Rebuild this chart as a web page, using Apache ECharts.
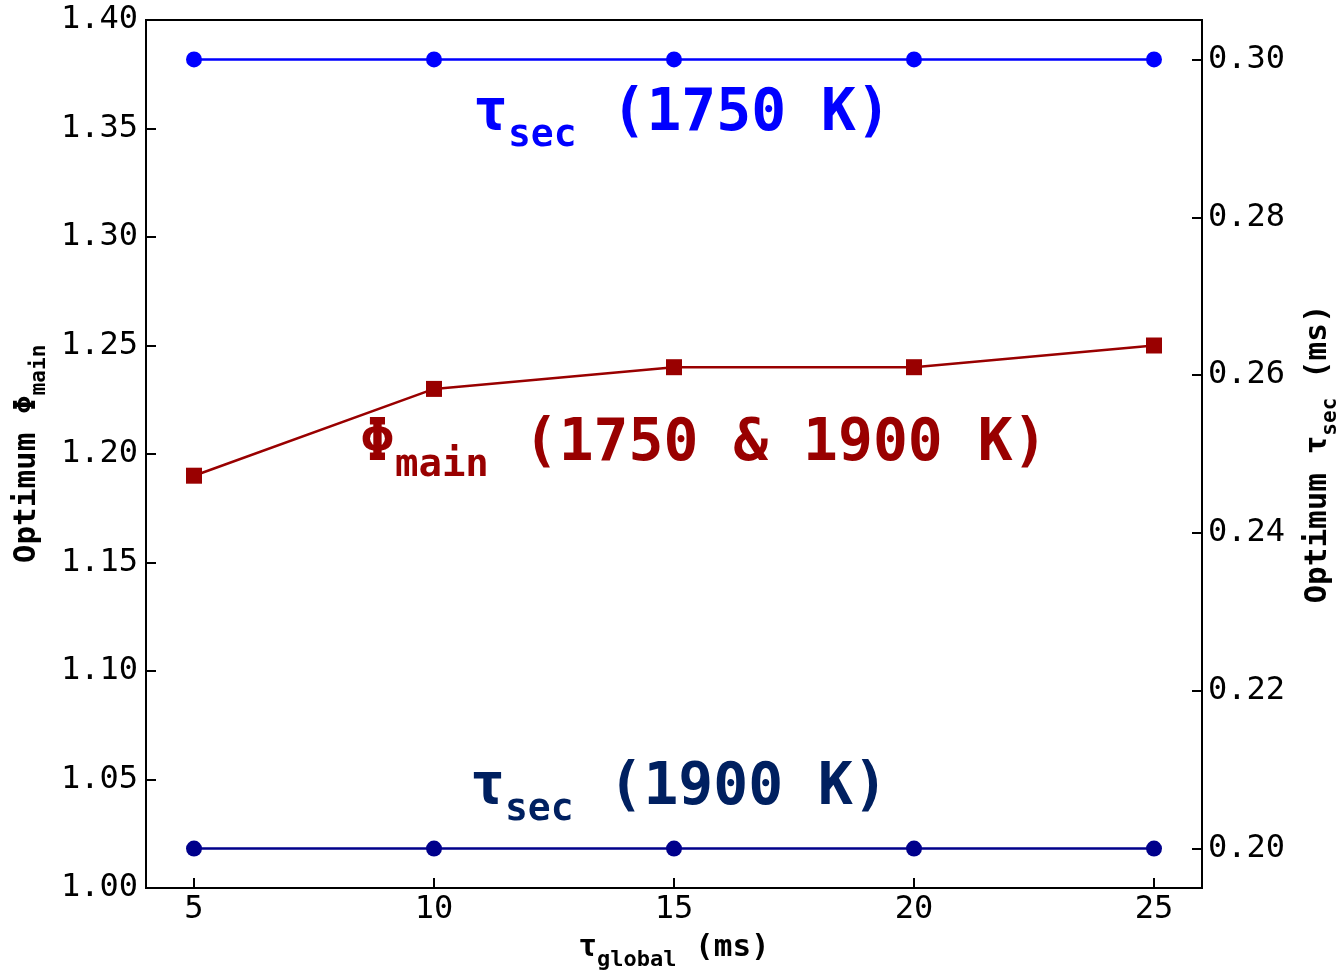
<!DOCTYPE html>
<html>
<head>
<meta charset="utf-8">
<script src="https://cdn.jsdelivr.net/npm/echarts@6/dist/echarts.min.js"></script>
<style>
  html, body { margin: 0; padding: 0; background: #fff; }
  #chart { width: 1339px; height: 973px; }
</style>
</head>
<body>
<div id="chart"></div>
<script>
  // data
  var tauGlobal = [5, 10, 15, 20, 25]
  var phiMain = [1.19, 1.23, 1.24, 1.24, 1.25]
  var tauSec1750 = [0.30, 0.30, 0.30, 0.30, 0.30]
  var tauSec1900 = [0.20, 0.20, 0.20, 0.20, 0.20]
  var rightTicks = [0.20, 0.22, 0.24, 0.26, 0.28, 0.30]

  var mono = 'DejaVu Sans Mono'
  function pairs(xs, ys) {
    return xs.map(function (x, i) { return [x, ys[i]] })
  }
  // rich styles: main text lifted by padding so the small part sits as a subscript
  function subRich(color, big, small, lift, key) {
    var c = key || 'color'
    var r = {
      t: { fontFamily: mono, fontWeight: 'bold', fontSize: big, verticalAlign: 'bottom', padding: [0, 0, lift, 0] },
      s: { fontFamily: mono, fontWeight: 'bold', fontSize: small, verticalAlign: 'bottom' },
      n: { fontFamily: mono, fontWeight: 'bold', fontSize: big, verticalAlign: 'bottom', padding: [0, 0, lift, 0] }
    }
    r.t[c] = color; r.s[c] = color; r.n[c] = color
    return r
  }

  var chart = echarts.init(document.getElementById('chart'))
  chart.setOption({
    animation: false,
    textStyle: { fontFamily: mono },
    grid: {
      left: 146,
      right: 137,
      top: 20,
      bottom: 85,
      outerBoundsMode: 'none',
      containLabel: false,
      show: true,
      borderColor: '#000',
      borderWidth: 2
    },
    xAxis: {
      type: 'value',
      min: 4,
      max: 26,
      name: '{t|τ}{s|global}{n| (ms)}',
      nameLocation: 'middle',
      nameGap: 44,
      nameTextStyle: { rich: subRich('#000', 31, 22, 8) },
      axisLine: { lineStyle: { color: '#000', width: 2 } },
      axisTick: { inside: true, length: 10, lineStyle: { color: '#000', width: 2 }, customValues: tauGlobal },
      axisLabel: { color: '#000', fontSize: 32, fontFamily: mono, margin: 6, customValues: tauGlobal },
      splitLine: { show: false }
    },
    yAxis: [
      {
        type: 'value',
        min: 1.0,
        max: 1.4,
        interval: 0.05,
        name: '{t|Optimum Φ}{s|main}',
        nameLocation: 'middle',
        nameRotate: 90,
        nameGap: 93,
        nameTextStyle: { rich: subRich('#000', 31, 21, 8) },
        axisLine: { show: true, lineStyle: { color: '#000', width: 2 } },
        axisTick: { show: true, inside: true, length: 10, lineStyle: { color: '#000', width: 2 } },
        axisLabel: {
          color: '#000', fontSize: 32, fontFamily: mono, margin: 8, padding: [8, 0, 0, 0],
          formatter: function (v) { return v.toFixed(2) }
        },
        splitLine: { show: false }
      },
      {
        type: 'value',
        position: 'right',
        min: 0.195,
        max: 0.305,
        name: '{t|Optimum τ}{s|sec}{n| (ms)}',
        nameLocation: 'middle',
        nameRotate: 90,
        nameGap: 100,
        nameTextStyle: { rich: subRich('#000', 31, 21, 8) },
        axisLine: { show: true, lineStyle: { color: '#000', width: 2 } },
        axisTick: { show: true, inside: true, length: 10, lineStyle: { color: '#000', width: 2 }, customValues: rightTicks },
        axisLabel: {
          color: '#000', fontSize: 32, fontFamily: mono, margin: 6, padding: [6, 0, 0, 0], customValues: rightTicks,
          formatter: function (v) { return v.toFixed(2) }
        },
        splitLine: { show: false }
      }
    ],
    series: [
      {
        name: 'tau_sec 1750 K',
        type: 'line',
        yAxisIndex: 1,
        data: pairs(tauGlobal, tauSec1750),
        symbol: 'circle',
        symbolSize: 16,
        lineStyle: { color: '#0000ff', width: 2.5 },
        itemStyle: { color: '#0000ff' }
      },
      {
        name: 'tau_sec 1900 K',
        type: 'line',
        yAxisIndex: 1,
        data: pairs(tauGlobal, tauSec1900),
        symbol: 'circle',
        symbolSize: 16,
        lineStyle: { color: '#00008b', width: 2.5 },
        itemStyle: { color: '#00008b' }
      },
      {
        name: 'phi_main',
        type: 'line',
        yAxisIndex: 0,
        data: pairs(tauGlobal, phiMain),
        symbol: 'rect',
        symbolSize: 16,
        lineStyle: { color: '#990000', width: 2.5 },
        itemStyle: { color: '#990000' }
      }
    ],
    graphic: [
      {
        type: 'text',
        left: 473,
        top: 86,
        style: {
          text: '{t|τ}{s|sec}{n| (1750 K)}',
          rich: subRich('#0000ff', 58, 38, 11, 'fill')
        }
      },
      {
        type: 'text',
        left: 360,
        top: 416,
        style: {
          text: '{t|Φ}{s|main}{n| (1750 & 1900 K)}',
          rich: subRich('#990000', 58, 39, 11, 'fill')
        }
      },
      {
        type: 'text',
        left: 470,
        top: 760,
        style: {
          text: '{t|τ}{s|sec}{n| (1900 K)}',
          rich: subRich('#002060', 58, 38, 11, 'fill')
        }
      }
    ]
  })
</script>
</body>
</html>
